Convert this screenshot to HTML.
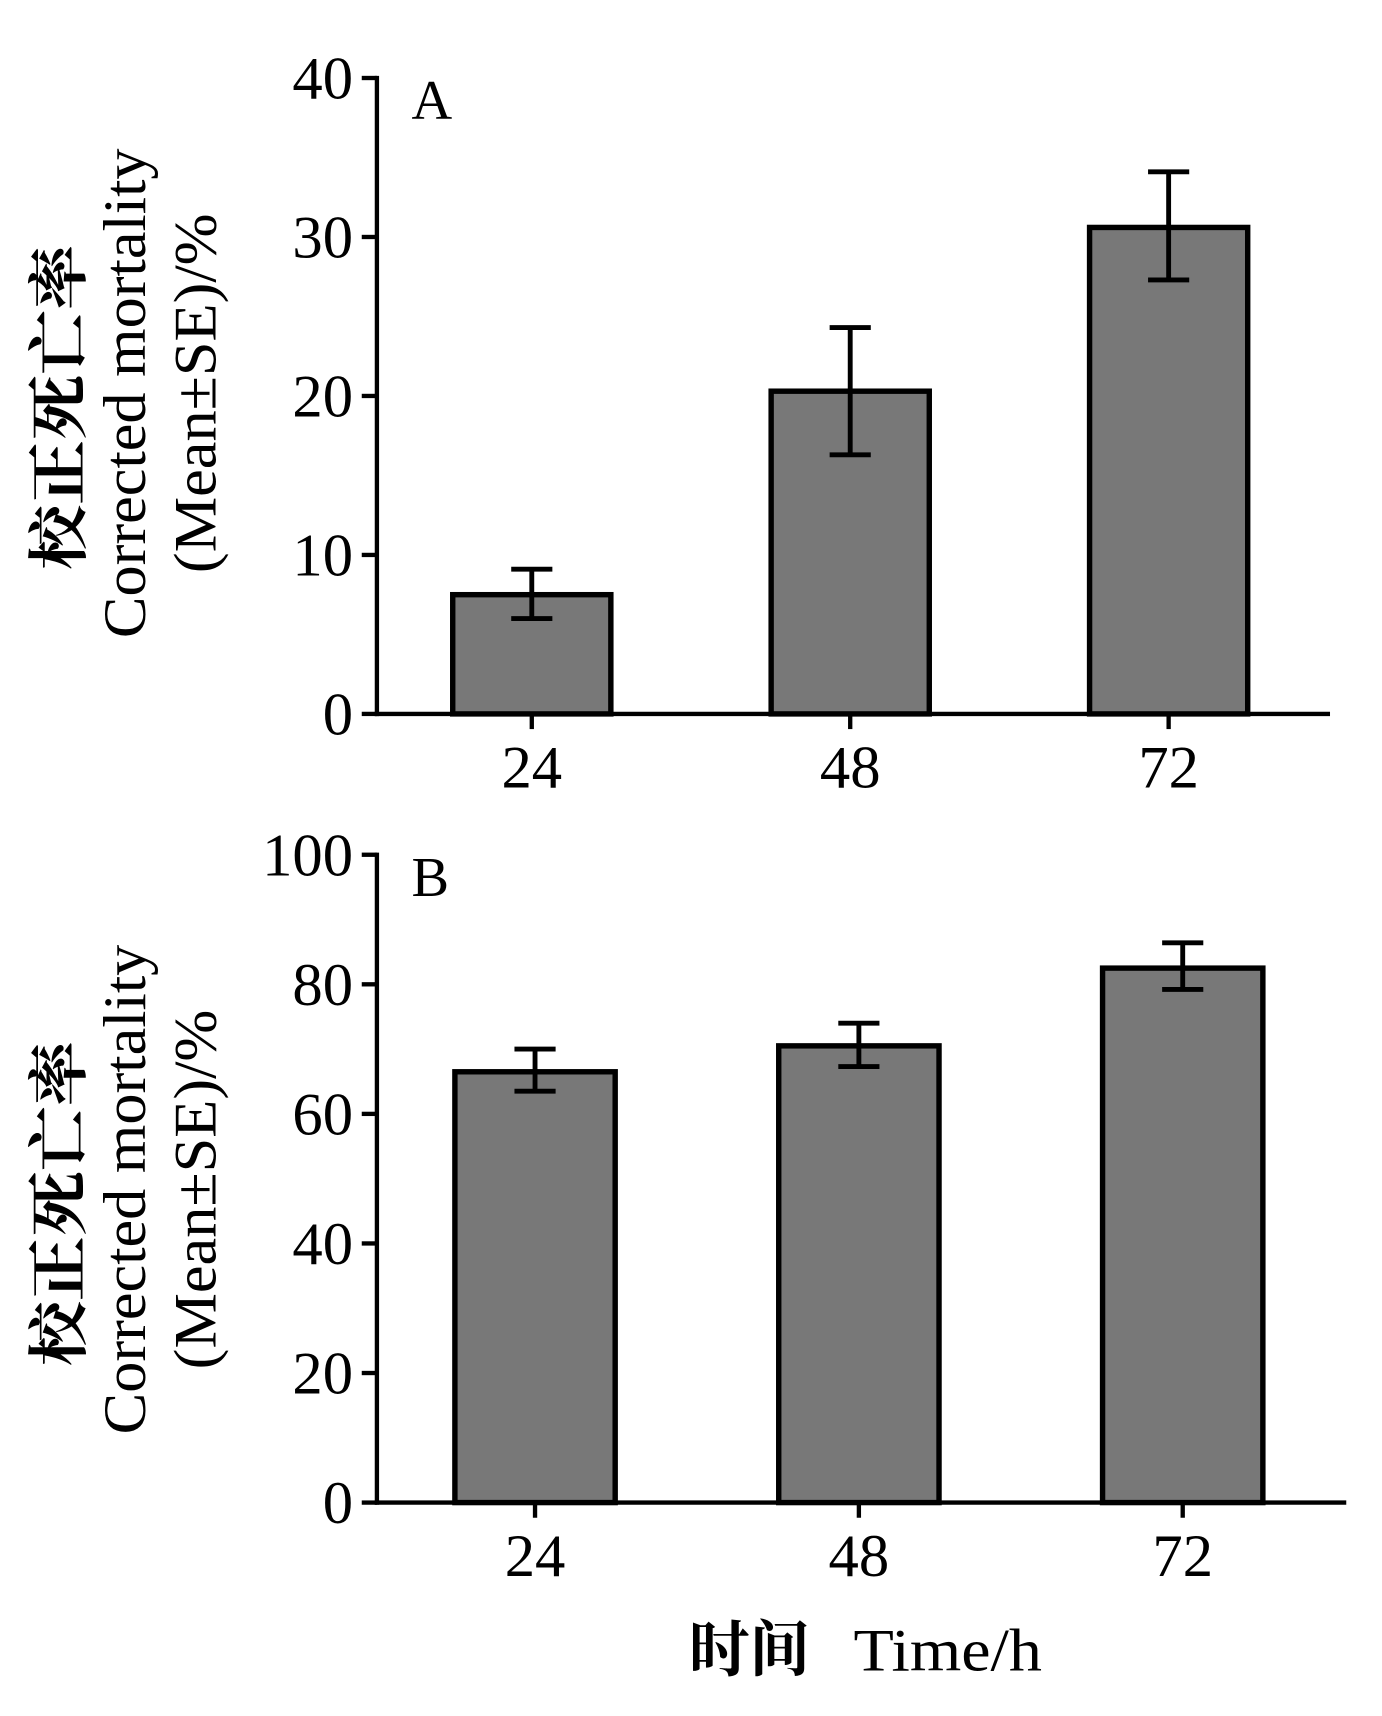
<!DOCTYPE html>
<html><head><meta charset="utf-8"><style>html,body{margin:0;padding:0;background:#fff}svg{display:block}</style></head>
<body>
<svg id="chart" width="1382" height="1716" viewBox="0 0 1276 1584" preserveAspectRatio="none" xmlns="http://www.w3.org/2000/svg" font-family="'Liberation Serif','Noto Serif CJK SC',serif"></svg>
<script>
const categories = ["24", "48", "72"];
const valuesA = [7.5, 20.3, 30.6];
const errHighA = [9.1, 24.3, 34.1];
const errLowA = [6.0, 16.3, 27.3];
const ticksA = [0, 10, 20, 30, 40];
const valuesB = [66.5, 70.5, 82.5];
const errHighB = [70.0, 74.0, 86.4];
const errLowB = [63.5, 67.3, 79.2];
const ticksB = [0, 20, 40, 60, 80, 100];

const NS = "http://www.w3.org/2000/svg";
const svg = document.getElementById("chart");
function mk(tag, attrs, parent) {
  const e = document.createElementNS(NS, tag);
  for (const k in attrs) e.setAttribute(k, attrs[k]);
  (parent || svg).appendChild(e);
  return e;
}

function panel(cfg) {
  const g = mk("g", {});
  
  
  const yScale = v => cfg.y0 - (v - cfg.min) / (cfg.max - cfg.min) * (cfg.y0 - cfg.y1);
  const xScale = i => cfg.xc[0] + i * cfg.step;
  cfg.values.forEach((v, i) => {
    const cx = xScale(i);
    const r = mk("rect", {x: cx - cfg.bw / 2, y: yScale(v), width: cfg.bw, height: cfg.y0 - yScale(v), fill: "#787878", stroke: "#000", "stroke-width": 5}, g);
    
    
    const eb = mk("g", {stroke: "#000", "stroke-width": 4.5}, g);
    
    
    const yh = yScale(cfg.hi[i]), yl = yScale(cfg.lo[i]);
    mk("line", {x1: cx, x2: cx, y1: yh, y2: yl}, eb);
    mk("line", {x1: cx - 19, x2: cx + 19, y1: yh, y2: yh}, eb);
    mk("line", {x1: cx - 19, x2: cx + 19, y1: yl, y2: yl}, eb);
  });
  const ax = mk("g", {stroke: "#000", "stroke-width": 4}, g);
  
  
  mk("line", {x1: cfg.x0, x2: cfg.x0, y1: cfg.y1 - 2, y2: cfg.y0 + 2}, ax);
  mk("line", {x1: cfg.x0 - 2, x2: cfg.xEnd, y1: cfg.y0, y2: cfg.y0}, ax);
  cfg.ticks.forEach(t => {
    const y = yScale(t);
    mk("line", {x1: cfg.x0 - 14, x2: cfg.x0, y1: y, y2: y}, ax);
    const tx = mk("text", {x: cfg.x0 - 22, y: y + 19, "text-anchor": "end", "font-size": 56}, g);
    tx.textContent = t;
    
    
  });
  categories.forEach((c, i) => {
    const x = xScale(i);
    mk("line", {x1: x, x2: x, y1: cfg.y0, y2: cfg.y0 + 14}, ax);
    const tx = mk("text", {x: x, y: cfg.y0 + 68, "text-anchor": "middle", "font-size": 56}, g);
    tx.textContent = c;
    
    
  });
  const L = mk("text", {x: cfg.x0 + 32, y: cfg.y1 + 38, "font-size": 52}, g);
  L.textContent = cfg.letter;
  
  
  const off = cfg.labOff;
  const lines = [
    {t: "校正死亡率", x: 74, c: 376, len: 300, w: "bold"},
    {t: "Corrected mortality", x: 134, c: 363, len: 452, w: "normal"},
    {t: "(Mean±SE)/%", x: 199, c: 363, len: 332, w: "normal"}
  ];
  lines.forEach(l => {
    const tx = mk("text", {x: 0, y: 0, "text-anchor": "middle", "font-size": 56, "font-weight": l.w, textLength: l.len, lengthAdjust: "spacingAndGlyphs", transform: `translate(${l.x},${l.c + off}) rotate(-90)`}, g);
    tx.textContent = l.t;
    
    
  });
}

panel({name: "panel-a", letter: "A", values: valuesA, hi: errHighA, lo: errLowA, ticks: ticksA, min: 0, max: 40,
  x0: 348, xEnd: 1228, y0: 659, y1: 72, xc: [491], step: 294, bw: 146, labOff: 0});
panel({name: "panel-b", letter: "B", values: valuesB, hi: errHighB, lo: errLowB, ticks: ticksB, min: 0, max: 100,
  x0: 348, xEnd: 1243, y0: 1387, y1: 789, xc: [494], step: 299, bw: 148, labOff: 735});

const xt1 = mk("text", {x: 636, y: 1542, "font-size": 56, "font-weight": "bold"});
xt1.textContent = "时间";


const xt = mk("text", {x: 788, y: 1542, "font-size": 56, textLength: 174, lengthAdjust: "spacingAndGlyphs"});
xt.textContent = "Time/h";


</script>
</body></html>
